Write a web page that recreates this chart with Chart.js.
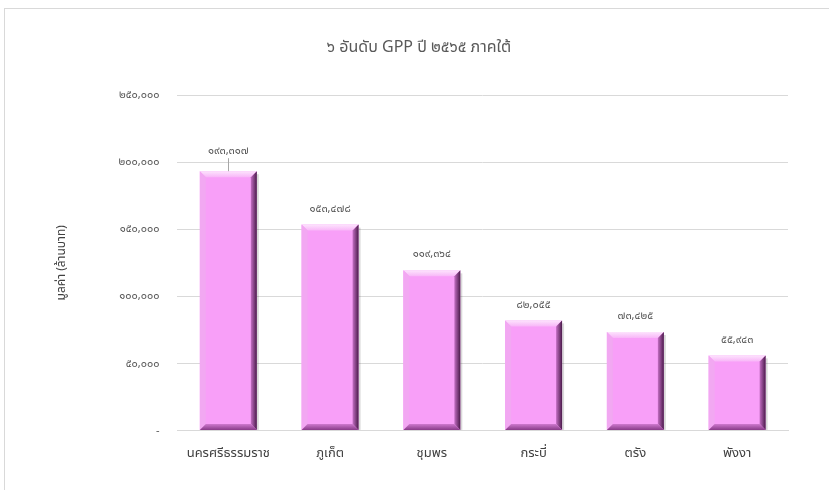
<!DOCTYPE html>
<html>
<head>
<meta charset="utf-8">
<script src="https://cdn.jsdelivr.net/npm/chart.js@4.4.1/dist/chart.umd.min.js"></script>
<style>
  html, body { margin: 0; padding: 0; background: #fff; overflow: hidden; }
  #wrap { position: relative; width: 829px; height: 490px; }
  #frame { position: absolute; left: 4px; top: 8px; width: 900px; height: 900px; border: 1px solid #d9d9d9; box-sizing: border-box; }
  #canvas-1 { position: absolute; left: 0; top: 0; }
</style>
</head>
<body>
<div id="wrap">
  <div id="frame"></div>
  <canvas id="canvas-1" width="829" height="490"></canvas>
</div>
<script>
  'use strict';

  var provinces = ['นครศรีธรรมราช', 'ภูเก็ต', 'ชุมพร', 'กระบี่', 'ตรัง', 'พังงา'];
  var gppValues = [193317, 153478, 119364, 82055, 73425, 55943];
  var yTicks = [0, 50000, 100000, 150000, 200000, 250000];

  var thaiDigits = ['๐','๑','๒','๓','๔','๕','๖','๗','๘','๙'];
  var toThai = function(n){
    return n.toLocaleString('en-US').replace(/[0-9]/g, function(d){ return thaiDigits[+d]; });
  };

  var fontFamily = "'Noto Sans', 'Noto Sans Thai', sans-serif";

  // bevel look for the bars + value labels on top
  var bevelPlugin = {
    id: 'bevel',
    afterDatasetsDraw: function(chart){
      var ctx = chart.ctx;
      var meta = chart.getDatasetMeta(0);
      meta.data.forEach(function(bar, i){
        var w = bar.width;
        var l = bar.x - w / 2, r = bar.x + w / 2, t = bar.y, b = bar.base;
        var e = 6;
        ctx.save();
        // shadow to the right
        ctx.fillStyle = 'rgba(0,0,0,0.15)';
        ctx.fillRect(r, t + 3, 2, b - t - 3);
        // top bevel
        var g = ctx.createLinearGradient(0, t, 0, t + e);
        g.addColorStop(0, '#fde4fd');
        g.addColorStop(1, '#f8b6f8');
        ctx.fillStyle = g;
        ctx.beginPath();
        ctx.moveTo(l, t); ctx.lineTo(r, t); ctx.lineTo(r - e, t + e); ctx.lineTo(l + e, t + e); ctx.closePath();
        ctx.fill();
        // left bevel
        ctx.fillStyle = '#f2a8f2';
        ctx.beginPath();
        ctx.moveTo(l, t); ctx.lineTo(l + e, t + e); ctx.lineTo(l + e, b - e); ctx.lineTo(l, b); ctx.closePath();
        ctx.fill();
        // right bevel
        var gr = ctx.createLinearGradient(r - e, 0, r, 0);
        gr.addColorStop(0, '#c36ec3');
        gr.addColorStop(1, '#4a1a4a');
        ctx.fillStyle = gr;
        ctx.beginPath();
        ctx.moveTo(r, t); ctx.lineTo(r, b); ctx.lineTo(r - e, b - e); ctx.lineTo(r - e, t + e); ctx.closePath();
        ctx.fill();
        // bottom bevel
        var gb = ctx.createLinearGradient(0, b - e, 0, b);
        gb.addColorStop(0, '#d07ad0');
        gb.addColorStop(1, '#8a3c8a');
        ctx.fillStyle = gb;
        ctx.beginPath();
        ctx.moveTo(l, b); ctx.lineTo(l + e, b - e); ctx.lineTo(r - e, b - e); ctx.lineTo(r, b); ctx.closePath();
        ctx.fill();

        // value label
        var off = i === 0 ? 20 : 16;
        if (i === 0) {
          ctx.strokeStyle = '#a6a6a6';
          ctx.lineWidth = 1;
          ctx.beginPath();
          ctx.moveTo(Math.round(bar.x) + 0.5, t);
          ctx.lineTo(Math.round(bar.x) + 0.5, t - off + 7);
          ctx.stroke();
        }
        ctx.fillStyle = '#595959';
        ctx.font = '11px ' + fontFamily;
        ctx.textAlign = 'center';
        ctx.textBaseline = 'middle';
        ctx.fillText(toThai(gppValues[i]), bar.x, t - off);
        ctx.restore();
      });
    }
  };

  var ctx = document.getElementById('canvas-1');
  var chart = new Chart(ctx, {
    type: 'bar',
    data: {
      labels: provinces,
      datasets: [{
        label: 'GPP',
        data: gppValues,
        backgroundColor: '#f89ff8',
        borderWidth: 0,
        barPercentage: 0.56,
        categoryPercentage: 1
      }]
    },
    options: {
      responsive: false,
      animation: false,
      layout: { padding: { left: 50, right: 41, top: 38, bottom: 22 } },
      plugins: {
        legend: { display: false },
        tooltip: { enabled: false },
        title: {
          display: true,
          text: '๖ อันดับ GPP ปี ๒๕๖๕ ภาคใต้',
          color: '#595959',
          font: { family: fontFamily, size: 16, weight: 'normal' },
          padding: { top: 0, bottom: 38 }
        }
      },
      scales: {
        x: {
          grid: { display: false },
          border: { color: '#d9d9d9' },
          ticks: { color: '#404040', font: { family: fontFamily, size: 13 }, padding: 7 }
        },
        y: {
          min: 0,
          max: 250000,
          afterBuildTicks: function(axis){ axis.ticks = yTicks.map(function(v){ return { value: v }; }); },
          grid: { color: '#d9d9d9', drawTicks: false },
          border: { display: false },
          ticks: {
            color: '#595959',
            font: { family: fontFamily, size: 11 },
            padding: 18,
            callback: function(v){ return v === 0 ? '-' : toThai(v); }
          },
          title: {
            display: true,
            text: 'มูลค่า (ล้านบาท)',
            color: '#404040',
            font: { family: fontFamily, size: 12 },
            padding: { bottom: 32 }
          }
        }
      }
    },
    plugins: [bevelPlugin]
  });
</script>
</body>
</html>
